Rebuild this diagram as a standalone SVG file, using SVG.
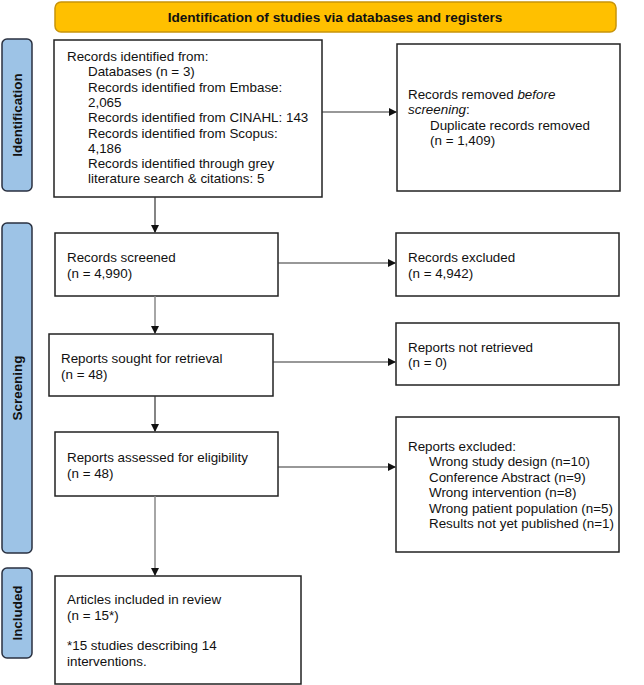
<svg xmlns="http://www.w3.org/2000/svg" width="644" height="685" viewBox="0 0 644 685">
<style>
.box{fill:#fff;stroke:#222;stroke-width:1.5}
.bar{fill:#9DC3E6;stroke:#2a3140;stroke-width:1.5}
.t{font-family:"Liberation Sans",Arial,sans-serif;font-size:13.4px;fill:#111}
.bt{font-family:"Liberation Sans",Arial,sans-serif;font-size:13.4px;font-weight:bold;fill:#111;text-anchor:middle}
.ln{stroke:#333;stroke-width:1.2;fill:none}
.lg{stroke:#888;stroke-width:1.5;fill:none}
</style>
<defs>
<marker id="ah" markerWidth="8" markerHeight="8" refX="7" refY="4" orient="auto" markerUnits="userSpaceOnUse">
<path d="M0,0 L8,4 L0,8 Z" fill="#111"/>
</marker>
</defs>
<rect width="644" height="685" fill="#fff"/>
<g id="header">
<rect x="55" y="2" width="561" height="30" rx="6" fill="#FFC000" stroke="#C8940A" stroke-width="1.5"/>
<text class="bt" x="335" y="22" style="font-size:13.6px">Identification of studies via databases and registers</text>
</g>
<g id="bar-identification">
<rect class="bar" x="2" y="39" width="30" height="152" rx="5"/>
<text class="bt" transform="translate(21.5,115) rotate(-90)">Identification</text>
</g>
<g id="bar-screening">
<rect class="bar" x="2" y="223" width="30" height="330" rx="5"/>
<text class="bt" transform="translate(21.5,388) rotate(-90)">Screening</text>
</g>
<g id="bar-included">
<rect class="bar" x="2" y="568" width="30" height="90" rx="5"/>
<text class="bt" transform="translate(21.5,613) rotate(-90)">Included</text>
</g>
<g id="records-identified">
<rect class="box" x="54" y="40" width="268" height="157"/>
<text class="t" x="67" y="61">Records identified from:</text>
<text class="t" x="88" y="76.3">Databases (n = 3)</text>
<text class="t" x="88" y="91.6">Records identified from Embase:</text>
<text class="t" x="88" y="106.9">2,065</text>
<text class="t" x="88" y="122.2">Records identified from CINAHL: 143</text>
<text class="t" x="88" y="137.5">Records identified from Scopus:</text>
<text class="t" x="88" y="152.8">4,186</text>
<text class="t" x="88" y="168.1">Records identified through grey</text>
<text class="t" x="88" y="183.4">literature search &amp; citations: 5</text>
</g>
<g id="records-removed">
<rect class="box" x="397" y="44" width="223" height="147"/>
<text class="t" x="408" y="99">Records removed <tspan font-style="italic">before</tspan></text>
<text class="t" x="408" y="114"><tspan font-style="italic">screening</tspan>:</text>
<text class="t" x="430" y="129.5">Duplicate records removed</text>
<text class="t" x="430" y="145">(n = 1,409)</text>
</g>
<g id="records-screened">
<rect class="box" x="55" y="233" width="223" height="63"/>
<text class="t" x="67" y="262">Records screened</text>
<text class="t" x="67" y="277.5">(n = 4,990)</text>
</g>
<g id="records-excluded">
<rect class="box" x="396" y="233" width="223" height="63"/>
<text class="t" x="408" y="262">Records excluded</text>
<text class="t" x="408" y="277.5">(n = 4,942)</text>
</g>
<g id="reports-sought">
<rect class="box" x="49" y="334" width="224" height="62"/>
<text class="t" x="61" y="363">Reports sought for retrieval</text>
<text class="t" x="61" y="378.5">(n = 48)</text>
</g>
<g id="reports-not-retrieved">
<rect class="box" x="396" y="323" width="223" height="62"/>
<text class="t" x="408" y="351.5">Reports not retrieved</text>
<text class="t" x="408" y="367">(n = 0)</text>
</g>
<g id="reports-assessed">
<rect class="box" x="55" y="432" width="223" height="64"/>
<text class="t" x="67" y="462">Reports assessed for eligibility</text>
<text class="t" x="67" y="477.5">(n = 48)</text>
</g>
<g id="reports-excluded">
<rect class="box" x="396" y="417" width="223" height="135"/>
<text class="t" x="408" y="450.5">Reports excluded:</text>
<text class="t" x="429" y="466">Wrong study design (n=10)</text>
<text class="t" x="429" y="481.5">Conference Abstract (n=9)</text>
<text class="t" x="429" y="497">Wrong intervention (n=8)</text>
<text class="t" x="429" y="512.5">Wrong patient population (n=5)</text>
<text class="t" x="429" y="528">Results not yet published (n=1)</text>
</g>
<g id="articles-included">
<rect class="box" x="55" y="576" width="246" height="108"/>
<text class="t" x="67" y="604">Articles included in review</text>
<text class="t" x="67" y="619.5">(n = 15*)</text>
<text class="t" x="67" y="650">*15 studies describing 14</text>
<text class="t" x="67" y="665.5">interventions.</text>
</g>
<g id="connectors">
<line class="ln" x1="322" y1="112" x2="396" y2="112" marker-end="url(#ah)"/>
<line class="ln" x1="155" y1="197" x2="155" y2="232" marker-end="url(#ah)"/>
<line class="ln" x1="278" y1="263" x2="395" y2="263" marker-end="url(#ah)"/>
<line class="lg" x1="155" y1="296" x2="155" y2="333" marker-end="url(#ah)"/>
<line class="ln" x1="273" y1="362" x2="395" y2="362" marker-end="url(#ah)"/>
<line class="ln" x1="155" y1="396" x2="155" y2="431" marker-end="url(#ah)"/>
<line class="ln" x1="278" y1="467" x2="395" y2="467" marker-end="url(#ah)"/>
<line class="lg" x1="155" y1="496" x2="155" y2="575" marker-end="url(#ah)"/>
</g>
</svg>
